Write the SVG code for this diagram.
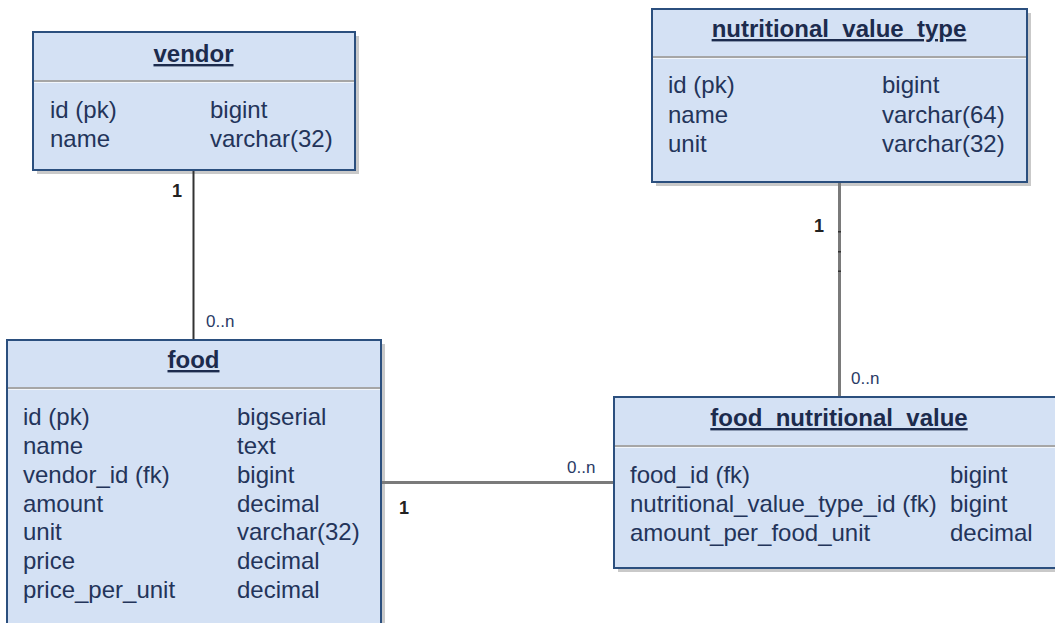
<svg xmlns="http://www.w3.org/2000/svg" width="1055" height="623" viewBox="0 0 1055 623">
<style>
.shadow{fill:#c9c9c9}
.box{fill:#d4e1f4;stroke:#2b4f7e;stroke-width:2}
.sep{stroke:#a6a6a6;stroke-width:2}
.sep2{stroke:#ffffff;stroke-width:1;opacity:0.7}
.title{font-family:"Liberation Sans",Arial,sans-serif;font-size:24px;font-weight:bold;fill:#1c2b4d;text-decoration:underline;text-anchor:middle}
.row{font-family:"Liberation Sans",Arial,sans-serif;font-size:24px;fill:#23345a}
.conn{fill:none}
.c1{stroke:#333333;stroke-width:2}
.c2{stroke:#7a7a7a;stroke-width:3}
.one{font-family:"Liberation Sans",Arial,sans-serif;font-size:18px;font-weight:bold;fill:#222222}
.many{font-family:"Liberation Sans",Arial,sans-serif;font-size:17px;fill:#2a3a66}
</style>
<rect width="1055" height="623" fill="#ffffff"/>

<g id="vendor">
  <rect class="shadow" x="37" y="36" width="322" height="138"/>
  <rect class="box" x="33" y="32" width="322" height="138"/>
  <line class="sep" x1="34" y1="81" x2="354" y2="81"/>
  <line class="sep2" x1="34" y1="82.5" x2="354" y2="82.5"/>
  <text class="title" x="193.5" y="62">vendor</text>
  <text class="row" x="50" y="118">id (pk)</text>
  <text class="row" x="210" y="118">bigint</text>
  <text class="row" x="50" y="147">name</text>
  <text class="row" x="210" y="147">varchar(32)</text>
</g>

<g id="nutritional_value_type">
  <rect class="shadow" x="656" y="13" width="375" height="173"/>
  <rect class="box" x="652" y="9" width="375" height="173"/>
  <line class="sep" x1="653" y1="57" x2="1026" y2="57"/>
  <line class="sep2" x1="653" y1="58.5" x2="1026" y2="58.5"/>
  <text class="title" x="839" y="37">nutritional_value_type</text>
  <text class="row" x="668" y="93">id (pk)</text>
  <text class="row" x="882" y="93">bigint</text>
  <text class="row" x="668" y="122.5">name</text>
  <text class="row" x="882" y="122.5">varchar(64)</text>
  <text class="row" x="668" y="151.5">unit</text>
  <text class="row" x="882" y="151.5">varchar(32)</text>
</g>

<g id="food">
  <rect class="shadow" x="11" y="344" width="374" height="300"/>
  <rect class="box" x="7" y="340" width="374" height="300"/>
  <line class="sep" x1="8" y1="388" x2="380" y2="388"/>
  <line class="sep2" x1="8" y1="389.5" x2="380" y2="389.5"/>
  <text class="title" x="193.5" y="368">food</text>
  <text class="row" x="23" y="425">id (pk)</text>
  <text class="row" x="237" y="425">bigserial</text>
  <text class="row" x="23" y="454">name</text>
  <text class="row" x="237" y="454">text</text>
  <text class="row" x="23" y="483">vendor_id (fk)</text>
  <text class="row" x="237" y="483">bigint</text>
  <text class="row" x="23" y="511.5">amount</text>
  <text class="row" x="237" y="511.5">decimal</text>
  <text class="row" x="23" y="540">unit</text>
  <text class="row" x="237" y="540">varchar(32)</text>
  <text class="row" x="23" y="568.5">price</text>
  <text class="row" x="237" y="568.5">decimal</text>
  <text class="row" x="23" y="598">price_per_unit</text>
  <text class="row" x="237" y="598">decimal</text>
</g>

<g id="food_nutritional_value">
  <rect class="shadow" x="618" y="401" width="460" height="171"/>
  <rect class="box" x="614" y="397" width="460" height="171"/>
  <line class="sep" x1="615" y1="446" x2="1060" y2="446"/>
  <line class="sep2" x1="615" y1="447.5" x2="1060" y2="447.5"/>
  <text class="title" x="839" y="426">food_nutritional_value</text>
  <text class="row" x="630" y="483">food_id (fk)</text>
  <text class="row" x="950" y="483">bigint</text>
  <text class="row" x="630" y="512">nutritional_value_type_id (fk)</text>
  <text class="row" x="950" y="512">bigint</text>
  <text class="row" x="630" y="540.5">amount_per_food_unit</text>
  <text class="row" x="950" y="540.5">decimal</text>
</g>

<g id="connectors">
  <line class="conn c1" x1="193.5" y1="171" x2="193.5" y2="339"/>
  <line class="conn c2" x1="382" y1="482.5" x2="613" y2="482.5"/>
  <line class="conn c2" x1="839.5" y1="183" x2="839.5" y2="396"/>
  <g stroke="#333333" stroke-width="3">
    <line x1="839.5" y1="231" x2="839.5" y2="232.5"/>
    <line x1="839.5" y1="251" x2="839.5" y2="252.5"/>
    <line x1="839.5" y1="270.5" x2="839.5" y2="272"/>
  </g>
  <text class="one" x="172" y="197">1</text>
  <text class="many" x="206" y="327">0..n</text>
  <text class="many" x="567" y="473">0..n</text>
  <text class="one" x="399" y="514">1</text>
  <text class="one" x="814" y="232">1</text>
  <text class="many" x="851" y="384">0..n</text>
</g>
</svg>
